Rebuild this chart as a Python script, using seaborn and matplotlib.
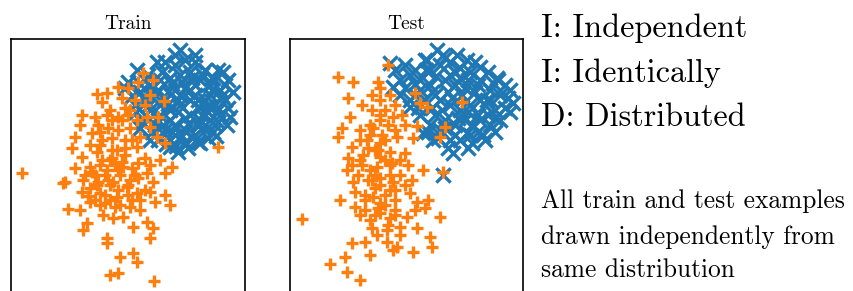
import matplotlib
matplotlib.use("Agg")
import matplotlib.pyplot as plt
import seaborn as sns

sns.set_theme(style="white")
plt.rcParams["font.family"] = ["cmr10", "DejaVu Serif"]
plt.rcParams["mathtext.fontset"] = "cm"
plt.rcParams["axes.unicode_minus"] = False
plt.rcParams["axes.formatter.use_mathtext"] = True

# ---- data (x, y; y grows downward) ----
train_blue_x = [180, 157, 165, 137, 195, 218, 223, 233, 128, 125, 213, 230, 227, 213, 200, 178, 170, 158, 140,
                150, 160, 170, 180, 190, 200, 210, 220, 175, 185, 195, 205, 215, 225, 165, 155, 145, 150, 160,
                170, 180, 190, 200, 210, 220, 175, 185, 195, 165, 155, 145, 135, 140, 205, 215, 190, 180, 200,
                170, 185, 160, 195, 175, 185, 205, 148, 170, 185, 160, 225, 210,
                145, 152, 162, 172, 182, 192, 202, 212, 222, 228, 218, 208, 198, 188, 176, 166, 152, 142, 136,
                132, 158, 168, 178, 188, 198, 208, 218, 168, 178, 188, 198, 208, 158, 148, 162, 172, 182, 192,
                202, 212, 228, 216, 150, 140, 195, 175]
train_blue_y = [50, 62, 62, 70, 62, 70, 72, 92, 82, 88, 78, 117, 125, 132, 143, 152, 147, 140, 128,
                85, 80, 78, 75, 72, 80, 85, 90, 90, 88, 95, 100, 105, 100, 100, 95, 100, 110, 115,
                110, 105, 115, 120, 120, 115, 125, 130, 135, 130, 125, 115, 105, 92, 130, 125, 100, 95, 108,
                120, 118, 105, 85, 65, 60, 70, 75, 140, 142, 138, 85, 95,
                80, 88, 72, 84, 82, 78, 74, 78, 96, 108, 122, 138, 142, 148, 146, 144, 132, 122, 112,
                96, 90, 92, 100, 92, 100, 112, 110, 104, 112, 124, 126, 106, 120, 106, 126, 132, 136, 138,
                115, 90, 80, 136, 140, 84, 55, 55]

train_orange_x = [143, 138, 153, 118, 97, 107, 102, 122, 164, 82, 95, 80, 107, 118, 128, 137, 147, 158, 150,
                  75, 92, 102, 72, 90, 140, 157, 165, 82, 97, 117, 137, 160, 75, 90, 107, 123, 138, 147, 165,
                  172, 22, 65, 63, 83, 97, 113, 127, 153, 82, 100, 117, 137, 150, 165, 68, 80, 90, 105, 115,
                  130, 140, 155, 170, 87, 83, 103, 113, 123, 133, 147, 153, 150, 107, 107, 120, 133, 137, 110,
                  118, 154, 218,
                  110, 115, 105, 120, 100, 125, 110, 95, 130, 118, 105, 128, 135, 90, 100, 120, 112, 125, 108,
                  118, 130, 98, 110, 125, 135,
                  112, 122, 132, 102, 92, 98, 108, 118, 128, 138, 145, 140, 132, 110, 95, 88, 85, 100, 112,
                  125, 132, 145, 150, 122, 112, 100, 130, 145, 150, 128]
train_orange_y = [73, 82, 80, 87, 94, 93, 102, 98, 101, 115, 117, 125, 115, 117, 115, 120, 117, 117, 127,
                  137, 133, 140, 148, 145, 137, 137, 143, 157, 152, 150, 147, 160, 168, 167, 170, 167, 163, 173, 173,
                  167, 173, 182, 183, 180, 185, 182, 187, 182, 192, 193, 197, 193, 192, 195, 209, 210, 202, 203, 207,
                  207, 210, 202, 205, 223, 230, 215, 218, 217, 227, 222, 228, 238, 238, 243, 257, 253, 262, 275,
                  273, 281, 147,
                  160, 165, 175, 175, 165, 155, 185, 175, 180, 190, 195, 195, 175, 188, 205, 205, 150, 140, 128,
                  130, 128, 125, 110, 108, 100,
                  158, 162, 168, 160, 172, 182, 180, 170, 185, 178, 190, 200, 200, 200, 200, 196, 175, 145, 138,
                  148, 140, 158, 165, 120, 120, 132, 110, 105, 95, 88]

test_blue_x = [437, 457, 467, 480, 497, 510, 513, 510, 483, 472, 453, 433, 423, 395, 390, 393, 410, 443, 427,
               443, 467, 480, 487, 493,
               410, 420, 430, 440, 450, 460, 470, 480, 490, 500, 405, 415, 430, 445, 455, 465, 475, 485, 495,
               500, 425, 440, 450, 460, 470, 478, 435, 445, 455, 465, 490, 430, 420, 448, 462, 472, 455, 440,
               485, 460, 450, 505, 400, 435, 468,
               405, 415, 425, 445, 455, 475, 488, 498, 508, 505, 495, 478, 468, 448, 438, 428, 418, 410, 400,
               420, 432, 452, 442, 458, 468, 480, 490, 478, 460, 450, 436, 426, 415, 488, 495, 470, 445, 432]
test_blue_y = [50, 55, 60, 67, 78, 90, 103, 112, 135, 143, 153, 140, 133, 70, 63, 87, 107, 175, 60,
               55, 133, 120, 100, 83,
               75, 80, 70, 65, 62, 68, 72, 80, 90, 95, 88, 95, 85, 80, 85, 88, 92, 105, 110,
               120, 100, 100, 105, 110, 105, 115, 115, 120, 125, 120, 125, 125, 115, 92, 95, 125, 135, 130,
               140, 140, 140, 85, 95, 95, 80,
               65, 70, 60, 58, 72, 62, 72, 80, 98, 108, 132, 132, 148, 148, 138, 132, 108, 100, 80,
               90, 92, 98, 110, 118, 112, 100, 100, 85, 78, 75, 76, 70, 84, 115, 118, 135, 128, 108]

test_orange_x = [388, 338, 353, 378, 380, 390, 348, 380, 415, 420, 427, 462, 372, 350, 380, 393, 402, 342, 338,
                 360, 373, 388, 417, 445, 440, 352, 367, 380, 397, 413, 348, 363, 380, 390, 405, 347, 362, 377,
                 392, 408, 423, 443, 353, 368, 380, 393, 355, 375, 390, 410, 340, 355, 373, 380, 395, 417, 428,
                 425, 302, 370, 380, 390, 407, 440, 417, 377, 387, 400, 352, 365, 387, 397, 413, 430, 432, 370,
                 345, 330, 347, 360, 393,
                 375, 385, 370, 380, 365, 390, 375, 385, 395, 370, 360, 395, 400, 365, 385, 375, 395, 380, 368,
                 370, 378, 390, 372, 385, 365, 378, 395, 388, 372, 360, 358, 352, 400, 412, 405, 415, 400, 385,
                 362, 372, 395, 405, 382, 360]
test_orange_y = [65, 77, 82, 82, 88, 95, 98, 100, 93, 103, 107, 102, 110, 117, 115, 117, 115, 128, 137,
                 130, 128, 125, 126, 127, 137, 147, 140, 143, 137, 138, 158, 155, 157, 152, 153, 170, 165, 167,
                 163, 165, 170, 172, 182, 180, 178, 182, 192, 188, 190, 193, 200, 207, 197, 203, 200, 202, 200,
                 208, 219, 220, 213, 218, 217, 217, 228, 235, 230, 227, 243, 242, 242, 247, 252, 237, 247, 255,
                 257, 264, 272, 280, 250,
                 150, 160, 170, 185, 195, 175, 175, 140, 130, 125, 160, 190, 175, 210, 205, 215, 210, 120, 148,
                 135, 150, 165, 180, 195, 200, 208, 215, 225, 228, 215, 175, 165, 160, 180, 185, 210, 235, 110,
                 105, 95, 105, 125, 135, 140]

panel_titles = ["Train", "Test"]
heading_lines = ["I: Independent", "I: Identically", "D: Distributed"]
note_lines = ["All train and test examples", "drawn independently from", "same distribution"]

BLUE = "#1f77b4"
ORANGE = "#ff7f0e"

W, H = 854, 291
fig = plt.figure(figsize=(W / 100, H / 100), dpi=100)

panels = [
    (11, 245, train_blue_x, train_blue_y, train_orange_x, train_orange_y),
    (290, 523, test_blue_x, test_blue_y, test_orange_x, test_orange_y),
]
top_px, bot_px = 39, 300
for (l, r, bx, by, ox, oy), title in zip(panels, panel_titles):
    ax = fig.add_axes([l / W, 1 - bot_px / H, (r - l) / W, (bot_px - top_px) / H])
    sns.scatterplot(x=bx, y=by, ax=ax, marker="x", s=105, color=BLUE, linewidth=2.4)
    sns.scatterplot(x=ox, y=oy, ax=ax, marker="+", s=85, color=ORANGE, linewidth=2.4)
    ax.set_xlim(l, r)
    ax.set_ylim(bot_px, top_px)
    ax.set_xticks([])
    ax.set_yticks([])
    for sp in ax.spines.values():
        sp.set_visible(True)
        sp.set_color("black")
        sp.set_linewidth(1.2)
    ax.set_title(title, fontsize=14, pad=7, color="black")

for txt, yb in zip(heading_lines, [37, 81.5, 126]):
    fig.text(541 / W, 1 - yb / H, txt, fontsize=23.2, va="baseline", ha="left", color="black")
for txt, yb in zip(note_lines, [208, 244, 277]):
    fig.text(541 / W, 1 - yb / H, txt, fontsize=18.3, va="baseline", ha="left", color="black")

fig.savefig("out.png", dpi=100)
